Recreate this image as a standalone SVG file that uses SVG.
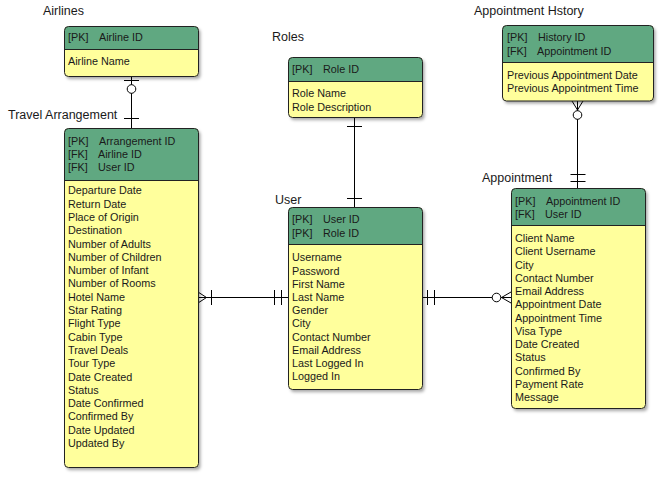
<svg xmlns="http://www.w3.org/2000/svg" width="669" height="479" viewBox="0 0 669 479">
<defs>
<filter id="sh" x="-10%" y="-10%" width="130%" height="130%">
<feDropShadow dx="2" dy="2.5" stdDeviation="1.5" flood-color="#000" flood-opacity="0.35"/>
</filter>
</defs>
<style>
.body{fill:#FFFF9C;stroke:none}
.hdr{fill:#60A881;stroke:none}
.out{fill:none;stroke:#222;stroke-width:1}
.div{stroke:#222;stroke-width:1}
.t{font-family:"Liberation Sans",Arial,sans-serif;font-size:10.8px;fill:#1a1a1a}
.lbl{font-family:"Liberation Sans",Arial,sans-serif;font-size:12.5px;fill:#1a1a1a}
.c{fill:none;stroke:#000;stroke-width:1}
.ci{fill:#fff;stroke:#000;stroke-width:1}
</style>
<rect width="669" height="479" fill="#fff"/>

<g id="connectors">
<!-- Airlines - Travel -->
<line class="c" x1="131.5" y1="76" x2="131.5" y2="128"/>
<line class="c" x1="124" y1="80.5" x2="139" y2="80.5"/>
<circle class="ci" cx="131.5" cy="89" r="4.3"/>
<line class="c" x1="124" y1="118.5" x2="139" y2="118.5"/>
<!-- Roles - User -->
<line class="c" x1="354.5" y1="117" x2="354.5" y2="207.5"/>
<line class="c" x1="347" y1="126.5" x2="362" y2="126.5"/>
<line class="c" x1="347" y1="198.5" x2="362" y2="198.5"/>
<!-- Travel - User -->
<line class="c" x1="198" y1="297.5" x2="288" y2="297.5"/>
<polyline class="c" points="198,292 206.5,297.5 198,303"/>
<line class="c" x1="211.5" y1="290" x2="211.5" y2="305"/>
<line class="c" x1="274.5" y1="290" x2="274.5" y2="305"/>
<line class="c" x1="281.5" y1="290" x2="281.5" y2="305"/>
<!-- User - Appointment -->
<line class="c" x1="422" y1="297.5" x2="511" y2="297.5"/>
<line class="c" x1="427.5" y1="290" x2="427.5" y2="305"/>
<line class="c" x1="434.5" y1="290" x2="434.5" y2="305"/>
<circle class="ci" cx="496.5" cy="297.5" r="4.3"/>
<polyline class="c" points="511,292 501.5,297.5 511,303"/>
<!-- History - Appointment -->
<line class="c" x1="577.5" y1="101" x2="577.5" y2="188.5"/>
<polyline class="c" points="572,101 577.5,110 583,101"/>
<circle class="ci" cx="577.5" cy="115" r="4.3"/>
<line class="c" x1="570.5" y1="174.5" x2="585.5" y2="174.5"/>
<line class="c" x1="570.5" y1="181.5" x2="585.5" y2="181.5"/>
</g>

<g id="airlines">
<text class="lbl" x="43" y="14.5">Airlines</text>
<rect class="body" x="64.5" y="26.5" width="134" height="50" rx="4" filter="url(#sh)"/>
<path class="hdr" d="M64.5,49.5 V30.5 a4,4 0 0 1 4,-4 H194.5 a4,4 0 0 1 4,4 V49.5 Z"/>
<line class="div" x1="64.5" y1="49.5" x2="198.5" y2="49.5"/>
<rect class="out" x="64.5" y="26.5" width="134" height="50" rx="4"/>
<text class="t" x="68" y="41">[PK]</text><text class="t" x="99" y="41">Airline ID</text>
<text class="t" x="68" y="65">Airline Name</text>
</g>

<g id="travel">
<text class="lbl" x="8" y="118.5">Travel Arrangement</text>
<rect class="body" x="64.5" y="128.5" width="134" height="339" rx="4" filter="url(#sh)"/>
<path class="hdr" d="M64.5,180.5 V132.5 a4,4 0 0 1 4,-4 H194.5 a4,4 0 0 1 4,4 V180.5 Z"/>
<line class="div" x1="64.5" y1="180.5" x2="198.5" y2="180.5"/>
<rect class="out" x="64.5" y="128.5" width="134" height="339" rx="4"/>
<text class="t" x="68" y="145.3">[PK]</text><text class="t" x="99" y="145.3">Arrangement ID</text>
<text class="t" x="68" y="158.3">[FK]</text><text class="t" x="98" y="158.3">Airline ID</text>
<text class="t" x="68" y="171">[FK]</text><text class="t" x="98" y="171">User ID</text>
<text class="t" x="68" y="194.3">Departure Date</text>
<text class="t" x="68" y="207.6">Return Date</text>
<text class="t" x="68" y="220.9">Place of Origin</text>
<text class="t" x="68" y="234.2">Destination</text>
<text class="t" x="68" y="247.5">Number of Adults</text>
<text class="t" x="68" y="260.8">Number of Children</text>
<text class="t" x="68" y="274.1">Number of Infant</text>
<text class="t" x="68" y="287.4">Number of Rooms</text>
<text class="t" x="68" y="300.7">Hotel Name</text>
<text class="t" x="68" y="314">Star Rating</text>
<text class="t" x="68" y="327.3">Flight Type</text>
<text class="t" x="68" y="340.6">Cabin Type</text>
<text class="t" x="68" y="353.9">Travel Deals</text>
<text class="t" x="68" y="367.2">Tour Type</text>
<text class="t" x="68" y="380.5">Date Created</text>
<text class="t" x="68" y="393.8">Status</text>
<text class="t" x="68" y="407.1">Date Confirmed</text>
<text class="t" x="68" y="420.4">Confirmed By</text>
<text class="t" x="68" y="433.7">Date Updated</text>
<text class="t" x="68" y="447">Updated By</text>
</g>

<g id="roles">
<text class="lbl" x="272" y="41">Roles</text>
<rect class="body" x="288.5" y="57.5" width="134" height="60" rx="4" filter="url(#sh)"/>
<path class="hdr" d="M288.5,81.5 V61.5 a4,4 0 0 1 4,-4 H418.5 a4,4 0 0 1 4,4 V81.5 Z"/>
<line class="div" x1="288.5" y1="81.5" x2="422.5" y2="81.5"/>
<rect class="out" x="288.5" y="57.5" width="134" height="60" rx="4"/>
<text class="t" x="292" y="73.3">[PK]</text><text class="t" x="323" y="73.3">Role ID</text>
<text class="t" x="292" y="97.3">Role Name</text>
<text class="t" x="292" y="110.5">Role Description</text>
</g>

<g id="user">
<text class="lbl" x="275" y="203.5">User</text>
<rect class="body" x="288.5" y="207.5" width="134" height="182" rx="4" filter="url(#sh)"/>
<path class="hdr" d="M288.5,244.5 V211.5 a4,4 0 0 1 4,-4 H418.5 a4,4 0 0 1 4,4 V244.5 Z"/>
<line class="div" x1="288.5" y1="244.5" x2="422.5" y2="244.5"/>
<rect class="out" x="288.5" y="207.5" width="134" height="182" rx="4"/>
<text class="t" x="292" y="223">[PK]</text><text class="t" x="323" y="223">User ID</text>
<text class="t" x="292" y="237">[PK]</text><text class="t" x="323" y="237">Role ID</text>
<text class="t" x="292" y="261.3">Username</text>
<text class="t" x="292" y="274.5">Password</text>
<text class="t" x="292" y="287.7">First Name</text>
<text class="t" x="292" y="300.9">Last Name</text>
<text class="t" x="292" y="314.1">Gender</text>
<text class="t" x="292" y="327.3">City</text>
<text class="t" x="292" y="340.5">Contact Number</text>
<text class="t" x="292" y="353.7">Email Address</text>
<text class="t" x="292" y="366.9">Last Logged In</text>
<text class="t" x="292" y="380.1">Logged In</text>
</g>

<g id="appointment">
<text class="lbl" x="482" y="181.5">Appointment</text>
<rect class="body" x="511.5" y="188.5" width="134" height="220" rx="4" filter="url(#sh)"/>
<path class="hdr" d="M511.5,225.5 V192.5 a4,4 0 0 1 4,-4 H641.5 a4,4 0 0 1 4,4 V225.5 Z"/>
<line class="div" x1="511.5" y1="225.5" x2="645.5" y2="225.5"/>
<rect class="out" x="511.5" y="188.5" width="134" height="220" rx="4"/>
<text class="t" x="515" y="205">[PK]</text><text class="t" x="546" y="205">Appointment ID</text>
<text class="t" x="515" y="218">[FK]</text><text class="t" x="545" y="218">User ID</text>
<text class="t" x="515" y="242">Client Name</text>
<text class="t" x="515" y="255.25">Client Username</text>
<text class="t" x="515" y="268.5">City</text>
<text class="t" x="515" y="281.75">Contact Number</text>
<text class="t" x="515" y="295">Email Address</text>
<text class="t" x="515" y="308.25">Appointment Date</text>
<text class="t" x="515" y="321.5">Appointment Time</text>
<text class="t" x="515" y="334.75">Visa Type</text>
<text class="t" x="515" y="348">Date Created</text>
<text class="t" x="515" y="361.25">Status</text>
<text class="t" x="515" y="374.5">Confirmed By</text>
<text class="t" x="515" y="387.75">Payment Rate</text>
<text class="t" x="515" y="401">Message</text>
</g>

<g id="history">
<text class="lbl" x="474" y="14.5">Appointment Hstory</text>
<rect class="body" x="502.5" y="25.5" width="151" height="75.5" rx="4" filter="url(#sh)"/>
<path class="hdr" d="M502.5,62.5 V29.5 a4,4 0 0 1 4,-4 H649.5 a4,4 0 0 1 4,4 V62.5 Z"/>
<line class="div" x1="502.5" y1="62.5" x2="653.5" y2="62.5"/>
<rect class="out" x="502.5" y="25.5" width="151" height="75.5" rx="4"/>
<text class="t" x="507" y="41">[PK]</text><text class="t" x="538" y="41">History ID</text>
<text class="t" x="507" y="55.3">[FK]</text><text class="t" x="537" y="55.3">Appointment ID</text>
<text class="t" x="507" y="79.3">Previous Appointment Date</text>
<text class="t" x="507" y="92.3">Previous Appointment Time</text>
</g>
</svg>
